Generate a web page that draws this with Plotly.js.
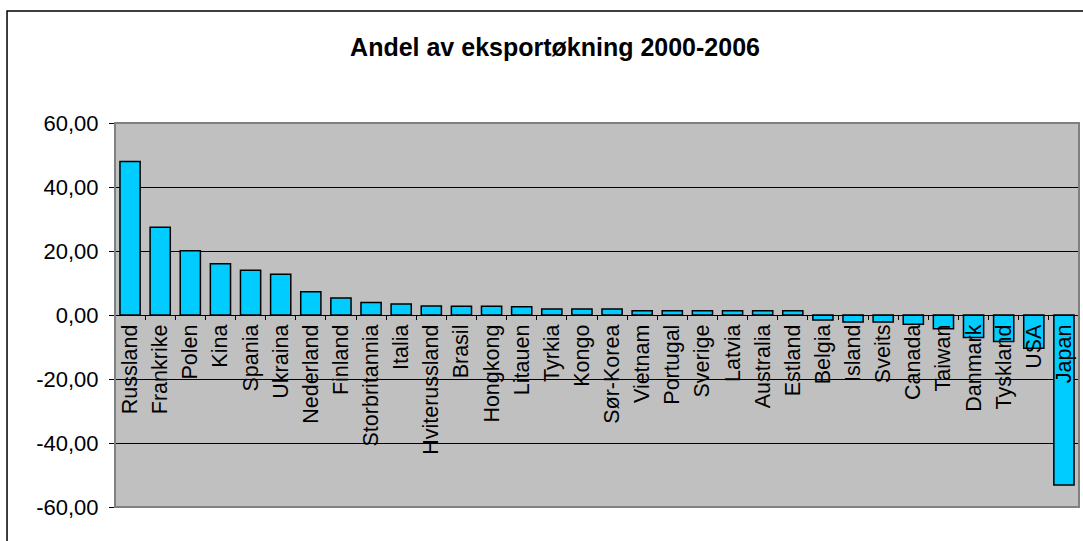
<!DOCTYPE html>
<html>
<head>
<meta charset="utf-8">
<script src="https://cdn.plot.ly/plotly-3.0.1.min.js"></script>
<style>html,body{margin:0;padding:0;background:#fff;}#chart{width:1083px;height:541px;}</style>
</head>
<body>
<div id="chart"></div>
<script>
const categories = ["Russland","Frankrike","Polen","Kina","Spania","Ukraina","Nederland","Finland","Storbritannia","Italia","Hviterussland","Brasil","Hongkong","Litauen","Tyrkia","Kongo","Sør-Korea","Vietnam","Portugal","Sverige","Latvia","Australia","Estland","Belgia","Island","Sveits","Canada","Taiwan","Danmark","Tyskland","USA","Japan"];
const values = [48.0,27.4,20.1,16.0,14.0,12.7,7.3,5.3,3.9,3.4,2.8,2.7,2.7,2.6,1.9,1.9,1.9,1.3,1.3,1.3,1.3,1.3,1.3,-1.6,-2.2,-2.2,-2.9,-4.3,-7.0,-8.3,-10.4,-53.1];
const yTicks = [-60,-40,-20,0,20,40,60];
const yTickText = ["-60,00","-40,00","-20,00","0,00","20,00","40,00","60,00"];
const titleText = "Andel av eksportøkning 2000-2006";

const font = "Liberation Sans, Arial, sans-serif";

const trace = {
  type: "bar",
  x: categories,
  y: values,
  marker: {color: "#00CCFF", line: {color: "#000000", width: 1.5}},
  hoverinfo: "x+y"
};

const layout = {
  width: 1083,
  height: 541,
  margin: {l: 115, r: 4, t: 123, b: 34, pad: 0},
  paper_bgcolor: "#ffffff",
  plot_bgcolor: "#C0C0C0",
  showlegend: false,
  bargap: 0.33,
  font: {family: font, color: "#000000"},
  title: {
    text: "<b>" + titleText + "</b>",
    font: {family: font, size: 25, color: "#000000"},
    xref: "container", x: 0.5125, xanchor: "center",
    yref: "container", y: 0.913, yanchor: "middle"
  },
  xaxis: {
    type: "category",
    anchor: "free",
    position: 0.5,
    showline: true,
    linecolor: "#000000",
    linewidth: 1,
    ticks: "outside",
    ticklen: 4,
    tickcolor: "#000000",
    tickson: "boundaries",
    tickangle: -90,
    tickfont: {family: font, size: 21.5, color: "#000000"},
    showgrid: false,
    zeroline: false,
    automargin: false,
    fixedrange: true
  },
  yaxis: {
    range: [-60, 60],
    tickmode: "array",
    tickvals: yTicks,
    ticktext: yTickText,
    showline: true,
    linecolor: "#000000",
    linewidth: 1,
    ticks: "outside",
    ticklen: 5,
    tickcolor: "#000000",
    ticklabelstandoff: 6,
    tickfont: {family: font, size: 22, color: "#000000"},
    showgrid: true,
    gridcolor: "#000000",
    gridwidth: 1,
    zeroline: true,
    zerolinecolor: "#000000",
    zerolinewidth: 1,
    automargin: false,
    fixedrange: true
  },
  shapes: [
    {type: "rect", xref: "paper", yref: "paper", x0: 0, x1: 1, y0: 0, y1: 1,
     line: {color: "#808080", width: 2}, fillcolor: "rgba(0,0,0,0)", layer: "above"},
    {type: "rect", xref: "paper", yref: "paper", x0: -0.112, x1: 1.3, y0: -0.4, y1: 1.2917,
     line: {color: "#000000", width: 1.5}, fillcolor: "rgba(0,0,0,0)", layer: "above"}
  ]
};

Plotly.newPlot("chart", [trace], layout, {displayModeBar: false, staticPlot: true});
</script>
</body>
</html>
